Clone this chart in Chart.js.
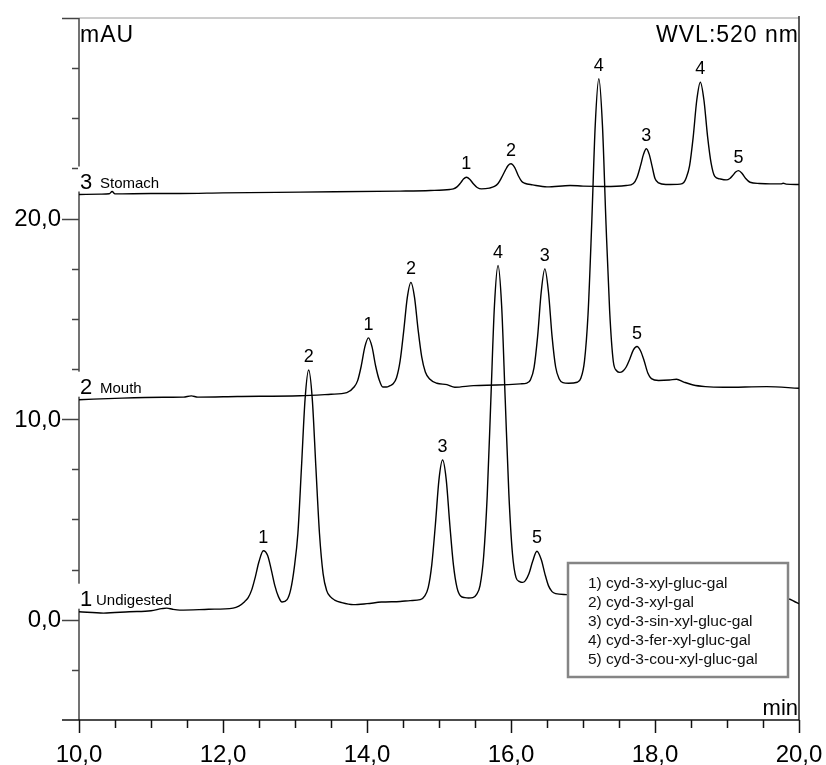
<!DOCTYPE html>
<html>
<head>
<meta charset="utf-8">
<script src="https://cdn.jsdelivr.net/npm/chart.js"></script>
<style>
  html, body { margin: 0; padding: 0; background: #fff; }
  canvas { display: block; }
</style>
</head>
<body>
<canvas id="myChart" width="826" height="765"></canvas>
<script>
// chromatogram points: [time (min), absorbance (mAU)]
const undigested = [
  [10.0, 0.4], [10.34, 0.33], [10.7, 0.4], [11.0, 0.45], [11.15, 0.55], [11.22, 0.58], [11.3, 0.52],
  [11.4, 0.48], [11.8, 0.52], [12.14, 0.58], [12.22, 0.68], [12.3, 0.9], [12.35, 1.1], [12.4, 1.5],
  [12.45, 2.15], [12.5, 2.9], [12.56, 3.44], [12.62, 3.2], [12.67, 2.5], [12.72, 1.7], [12.77, 1.15],
  [12.82, 0.88], [12.89, 1.0], [12.94, 1.5], [12.99, 2.6], [13.04, 4.3], [13.09, 7.6], [13.14, 11.0],
  [13.19, 12.45], [13.24, 11.0], [13.29, 7.6], [13.34, 4.3], [13.39, 2.3], [13.44, 1.45], [13.49, 1.15],
  [13.55, 0.98], [13.65, 0.85], [13.81, 0.75], [14.0, 0.8], [14.2, 0.88], [14.46, 0.91], [14.6, 0.95],
  [14.74, 1.0], [14.8, 1.18], [14.85, 1.6], [14.9, 2.75], [14.95, 4.75], [15.0, 7.0], [15.05, 7.96],
  [15.1, 7.0], [15.15, 4.75], [15.2, 2.75], [15.25, 1.6], [15.3, 1.18], [15.36, 1.1], [15.41, 1.08],
  [15.47, 1.1], [15.52, 1.25], [15.57, 1.7], [15.62, 3.15], [15.67, 6.2], [15.72, 10.95], [15.77, 15.65],
  [15.82, 17.66], [15.87, 15.65], [15.92, 10.95], [15.97, 6.3], [16.02, 3.3], [16.07, 2.1], [16.12, 1.9],
  [16.16, 1.86], [16.2, 1.95], [16.25, 2.3], [16.3, 2.9], [16.36, 3.41], [16.42, 3.0], [16.47, 2.3],
  [16.52, 1.7], [16.57, 1.4], [16.62, 1.3], [16.77, 1.25], [17.2, 1.2], [18.0, 1.1], [19.0, 1.0],
  [19.6, 1.0], [19.85, 1.03], [19.93, 0.92], [20.0, 0.8]
];
const mouth = [
  [10.0, 10.97], [10.6, 11.05], [11.17, 11.09], [11.45, 11.1], [11.56, 11.16], [11.65, 11.1], [12.2, 11.13],
  [13.07, 11.17], [13.5, 11.24], [13.72, 11.32], [13.82, 11.6], [13.87, 11.92], [13.92, 12.65], [13.97, 13.6],
  [14.02, 14.05], [14.07, 13.6], [14.12, 12.65], [14.17, 11.95], [14.22, 11.6], [14.27, 11.6], [14.32, 11.67],
  [14.36, 11.75], [14.41, 12.06], [14.46, 12.9], [14.51, 14.4], [14.56, 16.07], [14.61, 16.82], [14.66, 16.07],
  [14.71, 14.45], [14.76, 13.1], [14.81, 12.35], [14.87, 12.0], [14.97, 11.79], [15.11, 11.72], [15.22, 11.59],
  [15.48, 11.67], [15.8, 11.7], [16.13, 11.76], [16.22, 11.8], [16.27, 11.96], [16.32, 12.57], [16.37, 14.14],
  [16.42, 16.35], [16.47, 17.49], [16.52, 16.35], [16.57, 14.14], [16.62, 12.6], [16.67, 12.0], [16.72, 11.82],
  [16.8, 11.79], [16.92, 11.84], [16.97, 12.04], [17.02, 12.88], [17.07, 15.23], [17.12, 19.63], [17.17, 24.66],
  [17.22, 26.97], [17.27, 24.66], [17.32, 19.7], [17.37, 15.4], [17.42, 12.9], [17.47, 12.4], [17.51, 12.33],
  [17.55, 12.38], [17.6, 12.6], [17.65, 13.0], [17.7, 13.45], [17.75, 13.62], [17.8, 13.4], [17.85, 12.9],
  [17.9, 12.3], [17.95, 12.02], [18.05, 11.93], [18.2, 11.95], [18.3, 11.99], [18.4, 11.85], [18.53, 11.7],
  [18.7, 11.62], [18.95, 11.59], [19.55, 11.62], [20.0, 11.54]
];
const stomach = [
  [10.0, 21.2], [10.3, 21.22], [10.42, 21.24], [10.46, 21.35], [10.5, 21.23], [11.0, 21.25], [11.4, 21.25],
  [12.0, 21.28], [13.07, 21.32], [14.46, 21.37], [14.88, 21.4], [15.15, 21.45], [15.2, 21.48], [15.25, 21.58],
  [15.3, 21.78], [15.34, 21.97], [15.38, 22.06], [15.43, 21.95], [15.48, 21.72], [15.53, 21.55], [15.59, 21.48],
  [15.7, 21.52], [15.77, 21.6], [15.82, 21.75], [15.87, 22.05], [15.92, 22.4], [15.96, 22.65], [16.0, 22.73],
  [16.05, 22.55], [16.1, 22.15], [16.15, 21.85], [16.19, 21.76], [16.3, 21.68], [16.5, 21.58], [16.82, 21.65],
  [17.0, 21.62], [17.3, 21.6], [17.6, 21.65], [17.7, 21.75], [17.75, 22.05], [17.8, 22.65], [17.84, 23.2],
  [17.88, 23.48], [17.92, 23.2], [17.96, 22.6], [18.0, 22.0], [18.05, 21.78], [18.15, 21.7], [18.35, 21.72],
  [18.4, 21.8], [18.43, 22.0], [18.48, 22.63], [18.53, 24.05], [18.58, 25.9], [18.63, 26.8], [18.68, 25.9],
  [18.73, 24.1], [18.78, 22.75], [18.83, 22.1], [18.9, 21.98], [18.99, 21.93], [19.04, 22.0], [19.08, 22.15],
  [19.12, 22.32], [19.16, 22.39], [19.21, 22.25], [19.26, 22.0], [19.32, 21.81], [19.45, 21.75], [19.6, 21.73],
  [19.75, 21.73], [19.78, 21.76], [19.82, 21.72], [20.0, 21.7]
];

// peak labels (retention times of the numbered peaks)
const peakNumbers = ['1', '2', '3', '4', '5'];
const undigestedPeaks = [12.56, 13.19, 15.05, 15.82, 16.36];
const mouthPeaks = [14.02, 14.61, 16.47, 17.22, 17.75];
const stomachPeaks = [15.38, 16.0, 17.88, 18.63, 19.16];

const traceNumbers = ['1', '2', '3'];
const traceNames = ['Undigested', 'Mouth', 'Stomach'];

const compounds = [
  '1) cyd-3-xyl-gluc-gal',
  '2) cyd-3-xyl-gal',
  '3) cyd-3-sin-xyl-gluc-gal',
  '4) cyd-3-fer-xyl-gluc-gal',
  '5) cyd-3-cou-xyl-gluc-gal'
];

const xMajorTicks = [10, 12, 14, 16, 18, 20];
const yMajorTicks = [0, 10, 20];

const FONT = '"Liberation Sans", Arial, sans-serif';

function valueAt(series, t) {
  let best = series[0];
  for (const p of series) {
    if (Math.abs(p[0] - t) < Math.abs(best[0] - t)) best = p;
  }
  return best[1];
}

function fmt(v) {
  return v.toFixed(1).replace('.', ',');
}

function seg(ctx, x1, y1, x2, y2) {
  ctx.beginPath();
  ctx.moveTo(x1, y1);
  ctx.lineTo(x2, y2);
  ctx.stroke();
}

const axesPlugin = {
  id: 'axes',
  beforeDatasetsDraw(chart) {
    const ctx = chart.ctx;
    const xs = chart.scales.x, ys = chart.scales.y, a = chart.chartArea;
    ctx.save();

    // frame
    ctx.strokeStyle = '#9a9a9a';
    ctx.lineWidth = 1;
    seg(ctx, a.left, a.top, a.right, a.top);
    ctx.strokeStyle = '#222';
    ctx.lineWidth = 1.5;
    seg(ctx, a.right, a.top - 2, a.right, a.bottom);
    ctx.strokeStyle = '#444';
    seg(ctx, a.left, a.top, a.left, a.bottom);
    ctx.strokeStyle = '#111';
    seg(ctx, a.left - 17, a.bottom, a.right, a.bottom);

    // y ticks every 2,5 mAU
    ctx.strokeStyle = '#444';
    for (let v = -2.5; v <= 30; v += 2.5) {
      const py = Math.round(ys.getPixelForValue(v)) + 0.5;
      const len = (v % 10 === 0) ? 17 : 7;
      seg(ctx, a.left - len, py, a.left, py);
    }
    // x ticks every 0,5 min
    ctx.strokeStyle = '#111';
    for (let t = 10; t <= 20; t += 0.5) {
      const px = Math.round(xs.getPixelForValue(t)) + 0.5;
      const len = (t % 2 === 0) ? 13 : 8;
      seg(ctx, px, a.bottom, px, a.bottom + len);
    }

    // tick labels
    ctx.fillStyle = '#000';
    ctx.font = '24px ' + FONT;
    ctx.textAlign = 'right';
    ctx.textBaseline = 'middle';
    yMajorTicks.forEach(v => ctx.fillText(fmt(v), a.left - 18, ys.getPixelForValue(v) + 1));
    ctx.textAlign = 'center';
    ctx.textBaseline = 'alphabetic';
    xMajorTicks.forEach(t => ctx.fillText(fmt(t), xs.getPixelForValue(t), a.bottom + 42));

    // trace names with white backing
    [undigested, mouth, stomach].forEach((s, i) => {
      const base = ys.getPixelForValue(s[0][1]) - 6;
      ctx.font = '15px ' + FONT;
      const w = ctx.measureText(traceNames[i]).width;
      ctx.fillStyle = '#fff';
      ctx.fillRect(a.left - 1, base - 22, w + 24, 25);
      ctx.fillStyle = '#000';
      ctx.textAlign = 'left';
      ctx.font = '22px ' + FONT;
      ctx.fillText(traceNumbers[i], a.left + 1, base);
      ctx.font = '15px ' + FONT;
      ctx.fillText(traceNames[i], a.left + (i === 0 ? 17 : 21), base - 1);
    });
    ctx.restore();
  },
  afterDatasetsDraw(chart) {
    const ctx = chart.ctx;
    const xs = chart.scales.x, ys = chart.scales.y, a = chart.chartArea;
    ctx.save();

    // peak numbers
    ctx.fillStyle = '#000';
    ctx.font = '18px ' + FONT;
    ctx.textAlign = 'center';
    ctx.textBaseline = 'alphabetic';
    [[undigested, undigestedPeaks], [mouth, mouthPeaks], [stomach, stomachPeaks]].forEach(([s, peaks]) => {
      peaks.forEach((t, i) => {
        ctx.fillText(peakNumbers[i], xs.getPixelForValue(t), ys.getPixelForValue(valueAt(s, t)) - 8);
      });
    });

    // header texts
    ctx.font = '23px ' + FONT;
    ctx.letterSpacing = '1px';
    ctx.textAlign = 'left';
    ctx.fillText('mAU', a.left + 1, a.top + 24);
    ctx.textAlign = 'right';
    ctx.fillText('WVL:520 nm', a.right, a.top + 24);
    ctx.letterSpacing = '0px';
    ctx.font = '22px ' + FONT;
    ctx.fillText('min', a.right - 1, a.bottom - 5);

    // compound legend box
    const bx = 568, by = 563, bw = 220, bh = 114;
    ctx.fillStyle = '#fff';
    ctx.fillRect(bx, by, bw, bh);
    ctx.strokeStyle = '#858585';
    ctx.lineWidth = 2.5;
    ctx.strokeRect(bx, by, bw, bh);
    ctx.fillStyle = '#111';
    ctx.font = '15.5px ' + FONT;
    ctx.textAlign = 'left';
    ctx.textBaseline = 'middle';
    compounds.forEach((c, i) => ctx.fillText(c, bx + 20, by + 21 + i * 19));
    ctx.restore();
  }
};

const ctx = document.getElementById('myChart').getContext('2d');

const lineStyle = {
  borderColor: '#000',
  borderWidth: 1.4,
  pointRadius: 0,
  showLine: true,
  fill: false,
  cubicInterpolationMode: 'monotone'
};

const myChart = new Chart(ctx, {
  type: 'scatter',
  data: {
    datasets: [
      { label: 'Undigested', data: undigested.map(p => ({ x: p[0], y: p[1] })), ...lineStyle },
      { label: 'Mouth', data: mouth.map(p => ({ x: p[0], y: p[1] })), ...lineStyle },
      { label: 'Stomach', data: stomach.map(p => ({ x: p[0], y: p[1] })), ...lineStyle }
    ]
  },
  options: {
    responsive: false,
    animation: false,
    layout: { padding: { left: 79, right: 27, top: 18, bottom: 45 } },
    scales: {
      x: { type: 'linear', min: 10, max: 20, display: false },
      y: { type: 'linear', min: -5, max: 30, display: false }
    },
    plugins: {
      legend: { display: false },
      tooltip: { enabled: false }
    }
  },
  plugins: [axesPlugin]
});
</script>
</body>
</html>
